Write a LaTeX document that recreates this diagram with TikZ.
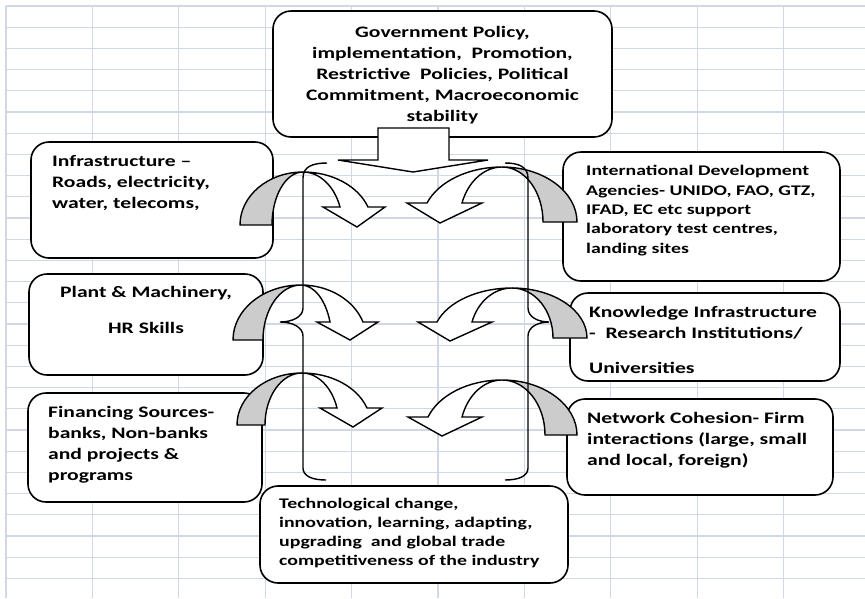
\documentclass[tikz,border=0pt]{standalone}
\usepackage{fontspec}
\newfontfamily\diagfont{Carlito}[FakeStretch=1.35]
\usepackage{tikz}
\usetikzlibrary{calc}
\definecolor{sheetblue}{RGB}{208,215,229}
\definecolor{bandgray}{RGB}{204,204,204}
\tikzset{
    panel box/.style={
        draw,line width=1.6pt,rounded corners=18pt,
        fill=white,inner sep=0pt
    },
    panel text/.style={
        inner sep=0pt,align=left,anchor=base west,
        font=\diagfont\bfseries\fontsize{16}{21}\selectfont
    },
    small text/.style={
        panel text,
        font=\diagfont\bfseries\fontsize{14.7}{19.3}\selectfont
    },
    sheet line/.style={sheetblue,line width=1.3pt},
    band back/.style={draw,fill=bandgray,line width=1.4pt},
    band front/.style={draw,fill=white,line width=1.4pt},
    brace line/.style={line width=1.4pt}
}
\begin{document}
\begin{tikzpicture}[x=1pt,y=1pt]
\useasboundingbox (0,0) rectangle (865,-598);
\fill[white] (0,0) rectangle (865,-598);
\foreach \k in {0,...,9}
    \draw[sheet line] ({6+86.4*\k},-6) -- ({6+86.4*\k},-598);
\foreach \k in {0,...,27}
    \draw[sheet line] (6,{-6-21.2*\k}) -- (865,{-6-21.2*\k});

\node[panel box,minimum width=339pt,minimum height=126pt] (policy) at (442.5,-74) {};
\node[panel box,minimum width=242pt,minimum height=116pt] (infra) at (152,-200) {};
\node[panel box,minimum width=277pt,minimum height=129pt] (agencies) at (701.5,-216.5) {};
\node[panel box,minimum width=234pt,minimum height=101pt] (plant) at (146,-324.5) {};
\node[panel box,minimum width=270pt,minimum height=88pt] (knowledge) at (705,-337) {};
\node[panel box,minimum width=234pt,minimum height=109pt] (finance) at (145,-447.5) {};
\node[panel box,minimum width=266pt,minimum height=96pt] (network) at (700,-447) {};
\node[panel box,minimum width=308pt,minimum height=97pt] (techchange) at (414,-534.5) {};

\node[panel text,align=center,anchor=base] (policy text) at (442.5,-121)
    {Government Policy,\\implementation,\ \ Promotion,\\Restrictive\ \ Policies, Political\\Commitment, Macroeconomic\\stability};
\node[panel text] (infra text) at (52,-208.5) {Infrastructure –\\Roads, electricity,\\water, telecoms,};
\node[small text] (agencies text) at (586,-253) {International Development\\Agencies- UNIDO, FAO, GTZ,\\IFAD, EC etc support\\laboratory test centres,\\landing sites};
\node[panel text,align=center,anchor=base] (plant text) at (146,-333.5) {Plant \& Machinery,\\[15pt]HR Skills};
\node[panel text] (knowledge text) at (589,-373.5) {Knowledge Infrastructure\\-\ \ Research Institutions/\\[14pt]Universities};
\node[panel text] (finance text) at (48,-480.5) {Financing Sources-\\banks, Non-banks\\and projects \&\\programs};
\node[panel text] (network text) at (587,-465.5) {Network Cohesion- Firm\\interactions (large, small\\and local, foreign)};
\node[small text,font=\diagfont\bfseries\fontsize{14.7}{19}\selectfont] (techchange text) at (279,-565.5) {Technological change,\\innovation, learning, adapting,\\upgrading\ \ and global trade\\competitiveness of the industry};

\draw[line width=1.4pt,fill=white] (378,-128) -- (449,-128) -- (449,-160) -- (488,-160)
    -- (413,-172) -- (338,-160) -- (378,-160) -- cycle;

\foreach \cx/\fy/\ay/\dir/\go/\gi/\hy/\ho/\hi/\wo/\wi/\tx/\ty in {
    303/225/172/1/240/272/207/368/340/385/323/357/227,
    502/222/167/-1/577/543/203/427/462/407/482/440/223,
    301/340/285/1/233/263/322/363/330/378/317/350/340,
    512/338/288/-1/587/553/322/437/472/418/492/450/341,
    302/425/373/1/237/265/408/367/337/382/320/353/427,
    502/435/380/-1/577/545/417/428/462/408/482/442/436}
{
    \pgfmathsetmacro\ry{\fy-\ay}
    \pgfmathsetmacro\rise{\fy-\hy}
    \pgfmathsetmacro\bendang{asin(\rise/\ry)}
    \pgfmathsetmacro\Ro{(\cx-\go)*\dir}
    \pgfmathsetmacro\Ri{(\cx-\gi)*\dir}
    \pgfmathsetmacro\Ao{(\ho-\cx)*\dir/cos(\bendang)}
    \pgfmathsetmacro\Ai{(\hi-\cx)*\dir/cos(\bendang)}
    \begin{scope}[shift={(\cx,-\fy)},xscale=\dir]
        \draw[band back] (-\Ro,0) arc[start angle=180,end angle=90,x radius=\Ro*1pt,y radius=\ry*1pt]
            arc[start angle=90,end angle=180,x radius=\Ri*1pt,y radius=\ry*1pt] -- cycle;
        \draw[band front] (0,\ry) arc[start angle=90,end angle=\bendang,x radius=\Ao*1pt,y radius=\ry*1pt]
            -- ({(\wo-\cx)*\dir},\rise) -- ({(\tx-\cx)*\dir},{\fy-\ty}) -- ({(\wi-\cx)*\dir},\rise)
            -- ({(\hi-\cx)*\dir},\rise)
            arc[start angle=\bendang,end angle=90,x radius=\Ai*1pt,y radius=\ry*1pt] -- cycle;
    \end{scope}
}

\draw[brace line] (327,-163) .. controls (312,-163) and (303,-167) .. (303,-178) -- (303,-308)
    .. controls (303,-317) and (292,-322) .. (280,-322) .. controls (292,-322) and (303,-327) .. (303,-336)
    -- (303,-468) .. controls (303,-476) and (312,-480) .. (326,-480);
\draw[brace line] (505,-163) .. controls (519,-163) and (528,-167) .. (528,-178) -- (528,-308)
    .. controls (528,-317) and (538,-322) .. (549,-322) .. controls (538,-322) and (528,-327) .. (528,-336)
    -- (528,-468) .. controls (528,-476) and (519,-480) .. (505,-480);
\end{tikzpicture}
\end{document}
